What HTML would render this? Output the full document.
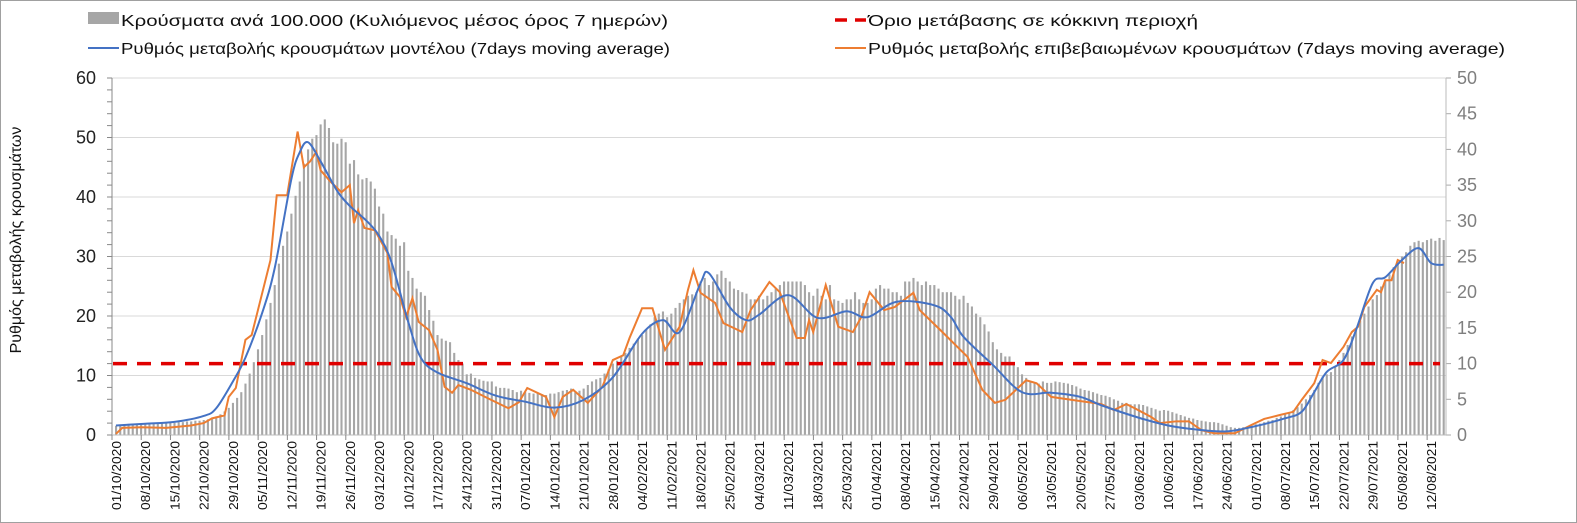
<!DOCTYPE html>
<html><head><meta charset="utf-8"><style>
body{margin:0;background:#fff}
svg{display:block;font-family:"Liberation Sans",sans-serif}
</style></head><body>
<svg id="chart" width="1577" height="523"></svg>
<script>
const startDate=[2020,9,1];
const barVals=[1.3,1.4,1.4,1.4,1.5,1.4,1.5, 1.5,1.5,1.6,1.6,1.6,1.7,1.7, 1.7,1.8,1.8,1.9,1.9,2.0,2.0, 2.1,2.2,2.4,2.6,2.9,3.3,3.8,
4.5,5.2,6.0,7.2,8.6,10.2,12.0, 14.0,16.2,18.5,21.0,24.0,26.5,28.5, 31.0,33.5,35.5,38.0,40.0,41.5,42.0, 43.5,44.2,43.0,41.0,40.8,41.5,41.0,
38.0,38.5,36.5,35.8,36.0,35.5,34.5, 32.0,31.0,28.5,28.0,27.5,26.5,27.0, 23.0,22.0,20.5,20.0,19.5,17.5,16.0, 14.0,13.5,13.2,13.0,11.5,10.5,10.0,
8.5,8.6,8.0,7.8,7.6,7.5,7.5, 6.8,6.6,6.6,6.5,6.3,6.0,6.2, 6.0,5.9,5.8,5.9,5.7,5.6,5.8, 5.8,6.0,6.2,6.3,6.5,6.0,6.2,
6.5,7.0,7.5,7.8,8.0,8.6,9.2, 10.0,10.4,11.0,11.5,12.2,12.8,13.5, 14.0,14.8,15.5,16.5,17.0,17.3,16.5, 17.0,17.8,18.5,19.0,19.5,19.7,20.0,
21.5,22.0,21.0,21.5,22.5,23.0,22.0, 21.5,20.5,20.3,20.0,19.8,19.0,19.0, 19.5,19.0,19.5,20.0,20.5,21.0,21.5, 21.5,21.5,21.5,21.5,21.0,20.0,19.5,
20.5,19.5,19.0,21.0,19.0,18.8,18.5, 19.0,19.0,20.0,19.0,18.5,18.5,19.0, 20.5,21.0,20.5,20.5,20.0,20.0,19.5, 21.5,21.5,22.0,21.5,21.0,21.5,21.0,
21.0,20.5,20.0,20.0,20.0,19.5,19.0, 19.5,18.5,18.0,17.0,16.5,15.5,14.5, 13.0,12.0,11.5,11.0,11.0,10.0,9.5, 8.5,8.0,7.5,7.3,7.2,7.5,7.3,
7.3,7.5,7.4,7.3,7.2,7.0,6.8, 6.5,6.3,6.2,6.0,5.8,5.6,5.5, 5.3,5.0,4.8,4.5,4.5,4.3,4.3, 4.3,4.2,4.0,3.8,3.6,3.4,3.5,
3.4,3.2,3.0,2.8,2.6,2.4,2.3, 2.1,2.0,1.9,1.8,1.8,1.7,1.5, 1.3,1.1,1.0,1.0,1.1,1.2,1.3, 1.5,1.6,1.8,2.0,2.1,2.4,2.6,
2.9,3.2,3.5,3.9,4.4,5.0,5.6, 6.3,7.3,8.2,8.5,8.8,9.6,10.5, 11.5,12.6,13.8,14.8,16.0,17.0,18.0, 19.0,19.6,20.8,21.6,22.5,23.5,24.0,
25.0,25.6,26.5,27.0,27.2,27.0,27.3, 27.5,27.2,27.6,27.3];
const blueDays=[0,7,14,21,24,28,31,35,38,42,44,46,49,53,56,60,63,66,70,73,77,84,91,98,105,112,119,126,131,135,140,142,147,151,154,161,168,175,180,187,196,200,203,210,217,224,231,236,245,252,259,266,273,280,284,287,290,294,297,301,304,308,312,315,318];
const blueVals=[1.6,1.9,2.2,3.2,4.5,9.0,13,20.5,28,43,47.5,49.2,46,41,38.5,36,33.5,29,19,13,10.5,8.7,6.6,5.6,4.6,5.9,9.7,17,19.3,17.3,25.5,27.2,21.5,19.3,20.2,23.5,19.7,20.8,19.8,22.4,21.8,19.8,16.5,11.8,7.2,7.1,6.4,5.0,2.9,1.6,0.9,0.6,1.5,2.8,3.9,7.2,10.6,12.6,17.6,25.5,26.5,29.4,31.4,28.9,28.6];
const orDays=[0,1.5,6,12,18,21,23,26,27,28.7,31,32.5,37,38.5,41,43.5,45,46.5,48,49,51.5,54,56,57,58,59.5,62,65,66,68,69.5,71,72.5,75,77,78.7,80.5,82,85,89,94,96.5,98.5,103,105,107,109.5,113,116.5,119,121.5,123,126,128.5,131.5,135,137,138.3,140,143.5,145.5,150,152,156.5,159,163,165,166,167,170,173,176.5,178.5,180.5,184,186.5,191,192.5,197.5,204,207.5,210.5,213,218,220.5,224,230,236,239,242,244,248,250,254,257,260,263,268,272,275,279,282,284,287,289,291,294,296,297.5,299,302,303,304,305.5,307,308.5];
const orVals=[0.2,1.2,1.3,1.2,1.6,2.0,2.8,3.3,6.4,7.9,16,16.8,29.4,40.3,40.3,51,45,46,47.6,44.5,42.5,40.8,42,35.6,37.8,34.8,34.4,30.6,24.9,23.2,19.8,23,19,17.6,14.3,8.1,7.1,8.4,7.6,6.2,4.5,5.5,7.9,6.4,3.0,6.4,7.6,5.4,8.1,12.6,13.4,16.3,21.3,21.3,14.3,18.2,24.4,27.7,23.9,22.2,18.8,17.3,21,25.7,24,16.3,16.3,19.3,17.3,25.2,18.2,17.3,19.8,24,21,21.5,23.9,21,17.6,13.1,7.6,5.4,5.9,9.2,8.7,6.4,5.8,5.2,4.2,5.2,4.5,3.0,2.0,2.3,2.3,0.8,0.3,0.3,1.7,2.7,3.4,3.9,5.9,8.7,12.6,12.1,14.8,17.3,18.2,21.5,24.4,24,26,26,29.4,28.9];
const leftTicks=[0,10,20,30,40,50,60];
const rightTicks=[0,5,10,15,20,25,30,35,40,45,50];
const threshold=10;

const X0=116,PX=4.175,AX=112,YB=435,YT=78,XR=1446;
const xs=d=>X0+d*PX;
const yL=v=>YB-(v/60)*(YB-YT);
const yR=v=>YB-(v/50)*(YB-YT);
const NS='http://www.w3.org/2000/svg';
const svg=document.getElementById('chart');
function mk(t,a,p){const e=document.createElementNS(NS,t);for(const k in a)e.setAttribute(k,a[k]);(p||svg).appendChild(e);return e;}

const border=mk('rect',{x:0.5,y:0.5,width:1576,height:522,fill:'#fff',stroke:'#a0a0a0'});



const grid=mk('g',{});


leftTicks.forEach(v=>{
  mk('line',{x1:AX,x2:XR,y1:yL(v),y2:yL(v),stroke:'#d9d9d9','stroke-width':1},grid);
  const t=mk('text',{x:96,y:yL(v)+6,'text-anchor':'end','font-size':18,fill:'#222'});
  t.textContent=v;
  
  
});
for(let v=0;v<=60;v+=2){mk('line',{x1:AX-5,x2:AX,y1:yL(v),y2:yL(v),stroke:'#888'});}
rightTicks.forEach(v=>{
  mk('line',{x1:XR,x2:XR+5,y1:yR(v),y2:yR(v),stroke:'#aaa'});
  const t=mk('text',{x:1457,y:yR(v)+6,'font-size':18,fill:'#7f7f7f'});
  t.textContent=v;
  
  
});

const bars=mk('g',{});


barVals.forEach((v,i)=>{
  const r=mk('rect',{x:xs(i)-1,y:yR(v),width:2.1,height:YB-yR(v),fill:'#a6a6a6'},bars);
  
  
});

mk('line',{x1:AX,x2:AX,y1:YT,y2:YB,stroke:'#888'});
mk('line',{x1:XR,x2:XR,y1:YT,y2:YB,stroke:'#bbb'});
mk('line',{x1:AX,x2:XR,y1:YB,y2:YB,stroke:'#bbb'});

const thr=mk('line',{x1:AX+1,x2:1440,y1:yR(threshold),y2:yR(threshold),stroke:'#e00000','stroke-width':3.5,'stroke-dasharray':'14 10'});



function smooth(days,vals){
  const p=days.map((d,i)=>[xs(d),yL(vals[i])]);
  let s='M'+p[0][0]+','+p[0][1];
  for(let i=0;i<p.length-1;i++){
    const a=p[i-1]||p[i],b=p[i],c=p[i+1],d=p[i+2]||c;
    s+=` C${b[0]+(c[0]-a[0])/6},${b[1]+(c[1]-a[1])/6} ${c[0]-(d[0]-b[0])/6},${c[1]-(d[1]-b[1])/6} ${c[0]},${c[1]}`;
  }
  return s;
}
const orLine=mk('polyline',{points:orDays.map((d,i)=>xs(d)+','+yL(orVals[i])).join(' '),fill:'none',stroke:'#ed7d31','stroke-width':2});


const blLine=mk('path',{d:smooth(blueDays,blueVals),fill:'none',stroke:'#4472c4','stroke-width':2});



const xl=mk('g',{});


const p2=n=>String(n).padStart(2,'0');
for(let d=0;d<=315;d+=7){
  const dt=new Date(startDate[0],startDate[1],startDate[2]+d);
  const lab=p2(dt.getDate())+'/'+p2(dt.getMonth()+1)+'/'+dt.getFullYear();
  mk('line',{x1:xs(d)-4,x2:xs(d)-4,y1:YB,y2:YB+5,stroke:'#888'},xl);
  const t=mk('text',{transform:`translate(${xs(d)+5},441) rotate(-90)`,'text-anchor':'end','font-size':12.5,textLength:69,lengthAdjust:'spacingAndGlyphs',fill:'#111'},xl);
  t.textContent=lab;
  
  
}

const yt=mk('text',{transform:'translate(21,240) rotate(-90)','text-anchor':'middle','font-size':16,fill:'#111'});
yt.textContent='Ρυθμός μεταβολής κρουσμάτων';



const lg=mk('g',{});


function entry(name,sw,x,y,txt,len){
  const g=mk('g',{},lg);
  
  
  if(sw==='bar')mk('rect',{x:x,y:y-14,width:31,height:12,fill:'#a6a6a6'},g);
  else mk('line',{x1:x,x2:x+31,y1:y-6,y2:y-6,stroke:sw,'stroke-width':sw==='#e00000'?3.5:2,'stroke-dasharray':sw==='#e00000'?'12 8':'none'},g);
  const t=mk('text',{x:x+33,y:y,'font-size':16,textLength:len,lengthAdjust:'spacingAndGlyphs',fill:'#111'},g);
  t.textContent=txt;
}
entry('legend-cases','bar',88,26,'Κρούσματα ανά 100.000 (Κυλιόμενος μέσος όρος 7 ημερών)',547);
entry('legend-threshold','#e00000',835,26,'Όριο μετάβασης σε κόκκινη περιοχή',330);
entry('legend-model','#4472c4',88,54,'Ρυθμός μεταβολής κρουσμάτων μοντέλου (7days moving average)',549);
entry('legend-confirmed','#ed7d31',835,54,'Ρυθμός μεταβολής επιβεβαιωμένων κρουσμάτων (7days moving average)',637);
</script>
</body></html>
